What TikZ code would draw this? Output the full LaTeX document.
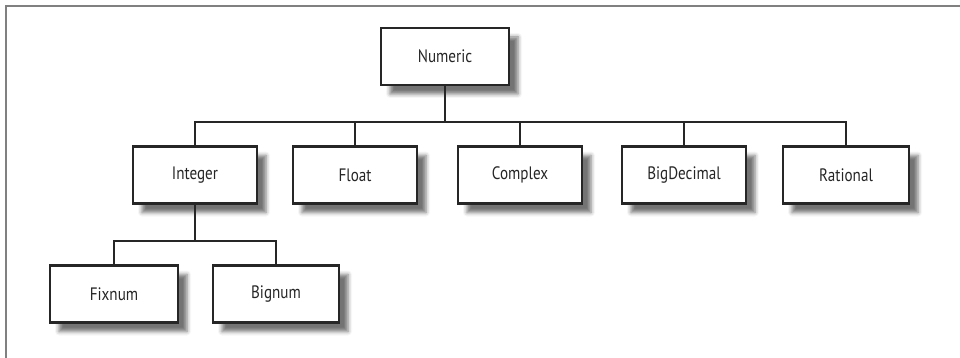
\documentclass[tikz,border=0pt]{standalone}
\usepackage{fontspec}
\setmainfont{PT Sans}[FakeStretch=0.84]
\usetikzlibrary{shadows.blur}
\begin{document}
\begin{tikzpicture}[x=1pt,y=-1pt,
  cls/.style={draw=black!85, line width=2.4pt, fill=white, minimum width=124pt, minimum height=57pt, inner sep=0pt,
    font=\fontsize{18}{21}\selectfont, text=black!85,
    blur shadow={shadow xshift=9pt, shadow yshift=-9pt, shadow blur radius=4pt, shadow opacity=55}},
  conn/.style={draw=black!85, line width=2pt}]
\useasboundingbox (0,0) rectangle (960,358);
\draw[black!50, line width=2pt] (5.5,358) -- (5.5,6.5) -- (960,6.5);
\node[cls, minimum width=128pt] (numeric) at (445,56.5) {Numeric};
\node[cls] (integer) at (195,175) {Integer};
\node[cls] (float) at (355,175) {Float};
\node[cls] (complex) at (520,175) {Complex};
\node[cls] (bigdecimal) at (684,175) {BigDecimal};
\node[cls, minimum width=126pt] (rational) at (846,175) {Rational};
\node[cls, minimum width=128pt] (fixnum) at (114,294) {Fixnum};
\node[cls, minimum width=126pt] (bignum) at (276,294) {Bignum};
\coordinate (bar) at (445,122.5);
\coordinate (subbar) at (195,241);
\draw[conn] (numeric.south) -- (bar);
\foreach \n in {integer,float,complex,bigdecimal,rational}
  \draw[conn] (\n.north) |- (bar);
\draw[conn] (integer.south) -- (subbar);
\foreach \n in {fixnum,bignum}
  \draw[conn] (\n.north) |- (subbar);
\end{tikzpicture}
\end{document}
